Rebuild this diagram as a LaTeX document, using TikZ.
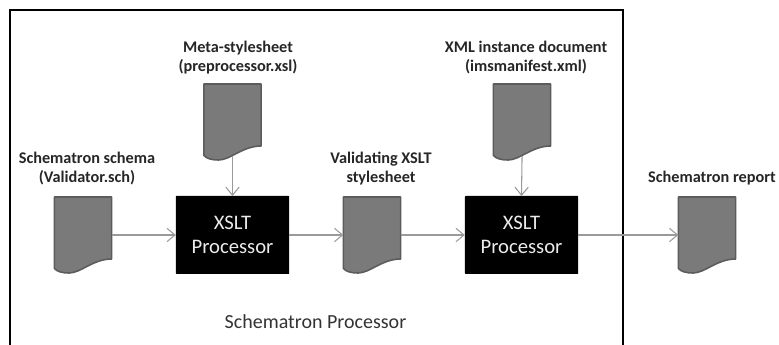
\documentclass[tikz,border=0pt]{standalone}
\usepackage{fontspec}
\setmainfont{Carlito}
\usetikzlibrary{arrows.meta}
\definecolor{docfill}{HTML}{7A7A7A}
\definecolor{docedge}{HTML}{5C5C5C}
\definecolor{linkgray}{HTML}{9A9A9A}
\tikzset{
	doc/.style={minimum width=43pt, minimum height=57pt, inner sep=0pt, outer sep=0pt},
	docline/.style={draw=docedge, line width=1.2pt, fill=docfill, line join=round},
	proc/.style={fill=black, text=white!92!black, align=center, font=\fontsize{15.5}{18}\selectfont, minimum width=85pt, minimum height=58.5pt, inner sep=0pt, outer sep=0pt, rounded corners=0.5pt},
	lbl/.style={align=center, text=black!85, font=\fontsize{12.2}{14.25}\selectfont\bfseries, inner sep=0pt},
	link/.style={draw=linkgray, line width=0.8pt, -{Straight Barb[length=6pt,width=10pt]}}
}
\begin{document}
\begin{tikzpicture}[x=0.75pt, y=-0.75pt]
	\useasboundingbox (0,0) rectangle (779,345);

	\draw[line width=1.6pt] (10,345) -- (10,10) -- (623,10) -- (623,345);

	\node[doc] (schema) at (83,235) {};
	\node[doc] (meta) at (232.5,122) {};
	\node[doc] (validating) at (372,235) {};
	\node[doc] (instance) at (522,122) {};
	\node[doc] (report) at (707,235) {};

	\foreach \d in {schema,meta,validating,instance,report}
		\draw[docline] (\d.north west) -- (\d.north east) -- ([yshift=10.5pt]\d.south east)
			.. controls ([xshift=-14pt,yshift=10.5pt]\d.south east) and ([xshift=20pt,yshift=0pt]\d.south west) .. ([xshift=11pt,yshift=0pt]\d.south west)
			.. controls ([xshift=6pt,yshift=0pt]\d.south west) and ([xshift=2pt,yshift=1pt]\d.south west) .. ([yshift=3.5pt]\d.south west)
			-- cycle;

	\node[proc] (proc_a) at (232.5,235) {XSLT\\Processor};
	\node[proc] (proc_b) at (521.5,235) {XSLT\\Processor};

	\node[lbl] (schema_lbl) at (87,169) {Schematron schema\\(Validator.sch)};
	\node[lbl] (meta_lbl) at (238,58) {Meta-stylesheet\\(preprocessor.xsl)};
	\node[lbl] (validating_lbl) at (381,169) {Validating XSLT\\stylesheet};
	\node[lbl] (instance_lbl) at (526,58) {XML instance document\\(imsmanifest.xml)};
	\node[lbl] (report_lbl) at (712,178) {Schematron report};

	\node[font=\fontsize{15}{17}\selectfont, text=black!80, inner sep=0pt] (processor_lbl) at (315.5,322) {Schematron Processor};

	\draw[link] (schema.east) -- (proc_a.west);
	\draw[link, shorten <=-3pt] (meta.south) -- (proc_a.north);
	\draw[link] (proc_a.east) -- (validating.west);
	\draw[link] (validating.east) -- (proc_b.west);
	\draw[link, shorten <=-3pt] (instance.south) -- (proc_b.north);
	\draw[link] (proc_b.east) -- (report.west);
\end{tikzpicture}
\end{document}
